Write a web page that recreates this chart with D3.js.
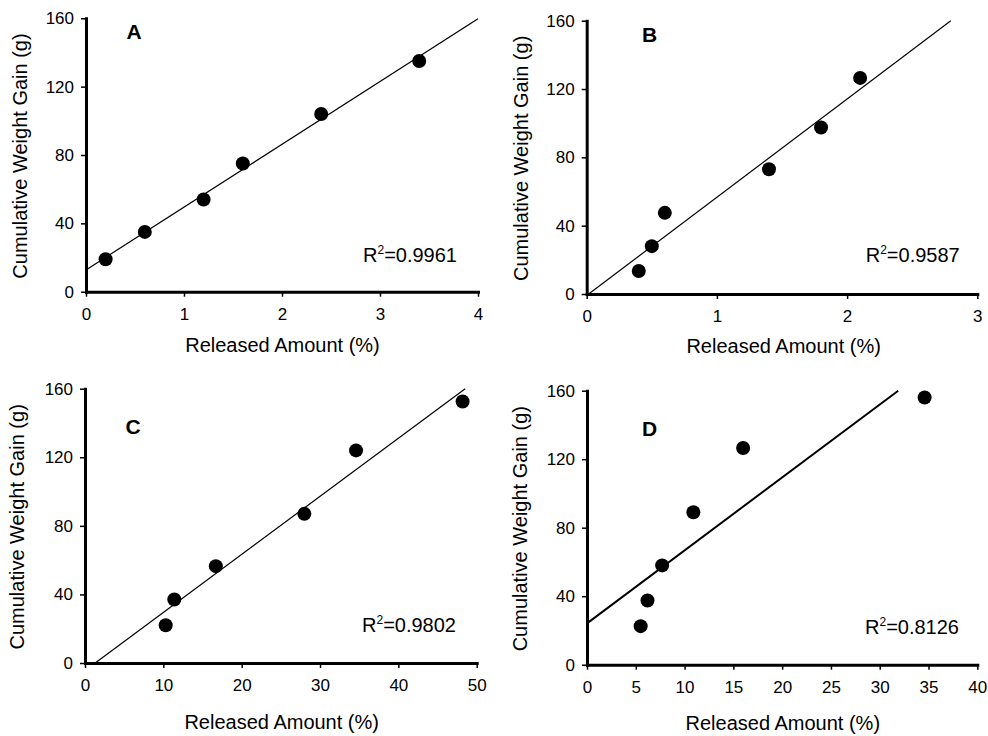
<!DOCTYPE html>
<html>
<head>
<meta charset="utf-8">
<script src="https://cdn.jsdelivr.net/npm/d3@7"></script>
<style>
  body { margin: 0; background: #fff; }
  text { font-family: "Liberation Sans", Arial, sans-serif; fill: #000; }
</style>
</head>
<body>
<svg id="chart"></svg>
<script>
// values
const aX = [0.2, 0.6, 1.2, 1.6, 2.4, 3.4];
const aY = [19, 35, 54, 75, 104, 135];
const bX = [0.4, 0.5, 0.6, 1.4, 1.8, 2.1];
const bY = [13.5, 28, 47.5, 73, 97.5, 126.5];
const cX = [10.3, 11.4, 16.7, 28, 34.6, 48.2];
const cY = [22, 37, 56.5, 87, 124, 152.5];
const dX = [5.5, 6.2, 7.7, 10.9, 16, 34.6];
const dY = [22.5, 37.5, 58, 89, 126.5, 156];

const yTicks = [0, 40, 80, 120, 160];
const xTicksA = [0, 1, 2, 3, 4];
const xTicksB = [0, 1, 2, 3];
const xTicksC = [0, 10, 20, 30, 40, 50];
const xTicksD = [0, 5, 10, 15, 20, 25, 30, 35, 40];

const panelNames = ['A', 'B', 'C', 'D'];
const r2Values = ['0.9961', '0.9587', '0.9802', '0.8126'];

const xTitle = 'Released Amount (%)';
const yTitle = 'Cumulative Weight Gain (g)';

const width = 988;
const height = 736;

// where each panel sits on the page
const layout = [
  { left: 86, top: 18.3, w: 392, h: 273.4, letter: [48, 21], r2: [277, -30], xt: [196.5, 60.5], yt: -59, fit: 1.2 },
  { left: 586.7, top: 20.7, w: 390.6, h: 273.3, letter: [63, 21], r2: [279, -32], xt: [197, 58.7], yt: -59, fit: 1.2 },
  { left: 85, top: 388.7, w: 391.7, h: 274.3, letter: [48, 45], r2: [277, -31], xt: [196.7, 65.7], yt: -61, fit: 1.2 },
  { left: 587, top: 390.7, w: 390.3, h: 274, letter: [62.5, 45], r2: [278, -31], xt: [195.8, 65], yt: -60, fit: 2 }
];

const panels = [
  { xs: aX, ys: aY, ticks: xTicksA },
  { xs: bX, ys: bY, ticks: xTicksB },
  { xs: cX, ys: cY, ticks: xTicksC },
  { xs: dX, ys: dY, ticks: xTicksD }
];

const svg = d3.select('#chart')
  .attr('width', width)
  .attr('height', height);

const fitLine = (xs, ys) => {
  const mx = d3.mean(xs);
  const my = d3.mean(ys);
  let sxy = 0, sxx = 0;
  xs.forEach((x, i) => {
    sxy += (x - mx) * (ys[i] - my);
    sxx += (x - mx) * (x - mx);
  });
  const slope = sxy / sxx;
  return { slope, intercept: my - slope * mx };
};

const drawPanel = (p, i) => {
  const L = layout[i];
  const g = svg.append('g')
    .attr('transform', 'translate(' + L.left + ',' + L.top + ')');

  const xScale = d3.scaleLinear()
    .domain([p.ticks[0], p.ticks[p.ticks.length - 1]])
    .range([0, L.w]);
  const yScale = d3.scaleLinear()
    .domain([0, 160])
    .range([L.h, 0]);

  // trend line, clipped to the plot box
  const { slope, intercept } = fitLine(p.xs, p.ys);
  const [x0d, x1d] = xScale.domain();
  const xStart = Math.max(x0d, (0 - intercept) / slope);
  const xEnd = Math.min(x1d, (160 - intercept) / slope);
  g.append('line')
    .attr('x1', xScale(xStart))
    .attr('y1', yScale(intercept + slope * xStart))
    .attr('x2', xScale(xEnd))
    .attr('y2', yScale(intercept + slope * xEnd))
    .attr('stroke', '#000')
    .attr('stroke-width', L.fit);

  // axes
  const xAxis = d3.axisBottom(xScale)
    .tickValues(p.ticks)
    .tickSize(5)
    .tickSizeOuter(0)
    .tickPadding(11)
    .tickFormat(d3.format('d'));
  const yAxis = d3.axisLeft(yScale)
    .tickValues(yTicks)
    .tickSize(5)
    .tickSizeOuter(0)
    .tickPadding(7)
    .tickFormat(d3.format('d'));

  const gx = g.append('g')
    .attr('transform', 'translate(0,' + L.h + ')')
    .call(xAxis);
  const gy = g.append('g').call(yAxis);

  [gx, gy].forEach((ax) => {
    ax.select('.domain')
      .attr('stroke', '#000')
      .attr('stroke-width', 3)
      .attr('stroke-linecap', 'square');
    ax.selectAll('.tick line')
      .attr('stroke', '#000')
      .attr('stroke-width', 1.5);
    ax.selectAll('.tick text')
      .style('font-family', '"Liberation Sans", Arial, sans-serif')
      .style('font-size', '17px')
      .style('fill', '#000');
  });

  // points
  g.selectAll('circle')
    .data(p.xs.map((x, j) => [x, p.ys[j]]))
    .enter()
    .append('circle')
    .attr('cx', (d) => xScale(d[0]))
    .attr('cy', (d) => yScale(d[1]))
    .attr('r', 7)
    .attr('fill', '#000');

  // panel letter
  g.append('text')
    .attr('x', L.letter[0])
    .attr('y', L.letter[1])
    .attr('text-anchor', 'middle')
    .style('font-size', '21px')
    .style('font-weight', 'bold')
    .text(panelNames[i]);

  // R squared label
  const r2 = g.append('text')
    .attr('x', L.r2[0])
    .attr('y', L.h + L.r2[1])
    .style('font-size', '20px');
  r2.append('tspan').text('R');
  r2.append('tspan').style('font-size', '12px').attr('dy', -8).text('2');
  r2.append('tspan').attr('dy', 8).text('=' + r2Values[i]);

  // axis titles
  g.append('text')
    .attr('x', L.xt[0])
    .attr('y', L.h + L.xt[1])
    .attr('text-anchor', 'middle')
    .style('font-size', '20px')
    .text(xTitle);

  g.append('text')
    .attr('transform', 'translate(' + L.yt + ',' + (L.h / 2 + 1) + ') rotate(-90)')
    .attr('text-anchor', 'middle')
    .style('font-size', '20px')
    .text(yTitle);
};

panels.forEach(drawPanel);
</script>
</body>
</html>
